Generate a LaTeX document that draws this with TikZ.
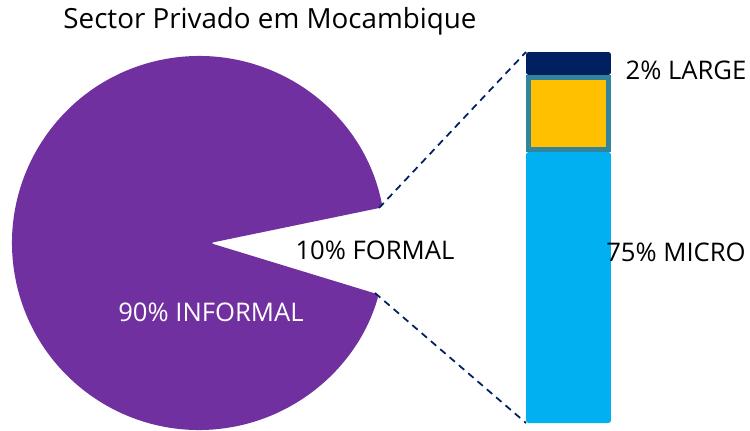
\documentclass[tikz,border=0pt]{standalone}
\usepackage{fontspec}
\setmainfont{Open Sans}
\usetikzlibrary{positioning}
\definecolor{piepurple}{HTML}{7030A0}
\definecolor{largenavy}{HTML}{002060}
\definecolor{mediumgold}{HTML}{FFC000}
\definecolor{smallteal}{HTML}{31849B}
\definecolor{microblue}{HTML}{00B0F0}
\tikzset{
  segment/.style={inner sep=0pt, outer sep=0pt, minimum width=1.7cm},
  label text/.style={inner sep=0pt, font=\fontsize{14.6}{17}\selectfont},
  guide/.style={largenavy, dashed, line width=1pt, dash pattern=on 4pt off 3pt}
}
\begin{document}
\begin{tikzpicture}[x=0.02cm, y=0.02cm]
        \useasboundingbox (0,0) rectangle (750,430);
        \fill [piepurple, rounded corners=2pt] (210,187) -- ([shift={(199,187)}]11:187) arc [start angle=11, end angle=344, radius=187] -- cycle;
        \coordinate (upper) at (379,222);
        \coordinate (lower) at (375,137);
        \node [segment, fill=microblue, minimum height=5.42cm, rounded corners=1.5pt, anchor=south west] (micro) at (526,7) {};
        \node [segment, fill=mediumgold, draw=smallteal, line width=0.1cm, minimum width=1.6cm, minimum height=1.44cm] (small) at (568.5,316.5) {};
        \node [segment, fill=largenavy, minimum height=0.46cm, rounded corners=1.5pt, anchor=south west] (large) at (526,355) {};
        \draw [guide] (upper) -- (large.north west);
        \draw [guide] (lower) -- (micro.south west);
        \node [label text, font=\fontsize{15.8}{19}\selectfont] (title) at (270,409) {Sector Privado em Mocambique};
        \node [label text] (formal) at (375,180) {10\% FORMAL};
        \node [label text, white] (informal) at (211,118) {90\% INFORMAL};
        \node [label text] (largelabel) at (686,360) {2\% LARGE};
        \node [label text] (microlabel) at (676,178) {75\% MICRO};
\end{tikzpicture}
\end{document}
